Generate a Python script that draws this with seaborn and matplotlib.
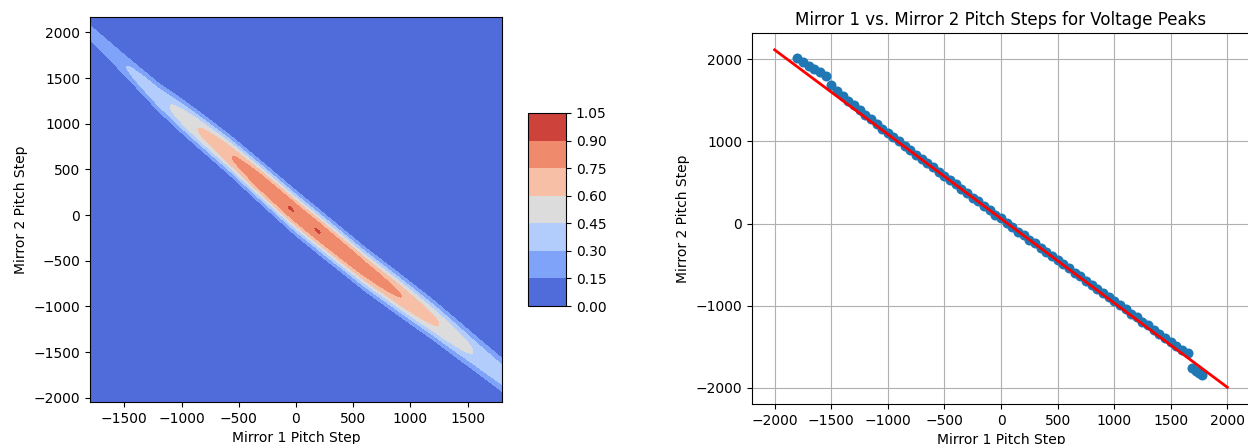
import numpy as np
import matplotlib
matplotlib.use("Agg")
import matplotlib.pyplot as plt
import seaborn as sns

# ---------------- data: left panel (normalised voltage surface) ----------------
# ridge centre line (Mirror 2 step at given Mirror 1 step)
ridge_x = [-1800, -1200, -600, 0, 600, 1200, 1800]
ridge_y = [2000, 1290, 680, 20, -590, -1150, -1750]
# peak height along the ridge
amp_x = [-1800, -1480, -1100, -855, -555, -300, -60, 80, 200, 500, 919, 1247, 1544, 1800]
amp_v = [0.26, 0.30, 0.45, 0.60, 0.75, 0.86, 0.9015, 0.897, 0.9015, 0.86, 0.75, 0.60, 0.45, 0.38]
# ridge half width (Mirror 2 steps)
width_x = [-1800, -1450, -1000, 0, 1000, 1800]
width_v = [95, 130, 170, 195, 190, 185]
# grid extent
m1_range = [-1800, 1800]
m2_range = [-2047, 2169]
levels = [0.00, 0.15, 0.30, 0.45, 0.60, 0.75, 0.90, 1.05]

# ---------------- data: right panel (peak positions + fit) ----------------
peak_m1 = [-1800, -1750, -1700, -1650, -1600, -1550, -1500, -1450, -1400, -1350,
           -1300, -1250, -1200, -1150, -1100, -1050, -1000, -950, -900, -850,
           -800, -750, -700, -650, -600, -550, -500, -450, -400, -350,
           -300, -250, -200, -150, -100, -50, 0, 50, 100, 150,
           200, 250, 300, 350, 400, 450, 500, 550, 600, 650,
           700, 750, 800, 850, 900, 950, 1000, 1050, 1100, 1150,
           1200, 1250, 1300, 1350, 1400, 1450, 1500, 1550, 1600, 1650,
           1690, 1720, 1750, 1780]
peak_m2 = [2007, 1970, 1918, 1878, 1838, 1797, 1684, 1610, 1548, 1492,
           1436, 1378, 1322, 1266, 1210, 1155, 1106, 1047, 1000, 942,
           895, 836, 790, 733, 684, 627, 580, 524, 476, 418,
           372, 312, 268, 209, 165, 106, 63, 4, -40, -99,
           -142, -200, -243, -301, -342, -398, -442, -497, -541, -597,
           -641, -697, -742, -797, -841, -897, -941, -996, -1040, -1096,
           -1140, -1195, -1240, -1294, -1338, -1392, -1437, -1490, -1533, -1575,
           -1760, -1790, -1815, -1840]
fit_x = [-2000, 2000]
fit_y = [2112, -1992]

# ---------------- figure ----------------
fig = plt.figure(figsize=(12.48, 4.44), dpi=100)
W, H = 1248, 444

def frac(x0, y0, x1, y1):
    return [x0 / W, 1 - y1 / H, (x1 - x0) / W, (y1 - y0) / H]

ax1 = fig.add_axes(frac(90, 17, 502, 402))
cax = fig.add_axes(frac(528, 113, 566, 306))
ax2 = fig.add_axes(frac(752, 33, 1250, 404))

# left: filled contour
xs = np.linspace(m1_range[0], m1_range[1], 361)
ys = np.linspace(m2_range[0], m2_range[1], 420)
X, Y = np.meshgrid(xs, ys)
centre = np.interp(X, ridge_x, ridge_y)
amp = np.interp(X, amp_x, amp_v)
wid = np.interp(X, width_x, width_v)
Z = amp * np.exp(-(np.abs(Y - centre) / wid) ** 2.5)

cs = ax1.contourf(X, Y, Z, levels=levels, cmap="coolwarm")
ax1.set_xlabel("Mirror 1 Pitch Step")
ax1.set_ylabel("Mirror 2 Pitch Step")
cb = fig.colorbar(cs, cax=cax)
cb.set_ticks(levels)
cb.set_ticklabels([f"{v:.2f}" for v in levels])

# right: scatter + fit line
sns.scatterplot(x=peak_m1, y=peak_m2, ax=ax2, color="#1f77b4", s=52,
                linewidth=0, zorder=2)
sns.lineplot(x=fit_x, y=fit_y, ax=ax2, color="red", linewidth=2, zorder=3)
ax2.set_xlim(-2200, 2200)
ax2.set_ylim(-2195, 2317)
ax2.set_xticks([-2000, -1500, -1000, -500, 0, 500, 1000, 1500, 2000])
ax2.grid(True)
ax2.set_axisbelow(True)
ax2.set_title("Mirror 1 vs. Mirror 2 Pitch Steps for Voltage Peaks")
ax2.set_xlabel("Mirror 1 Pitch Step")
ax2.set_ylabel("Mirror 2 Pitch Step")

fig.savefig("out.png", dpi=100)
